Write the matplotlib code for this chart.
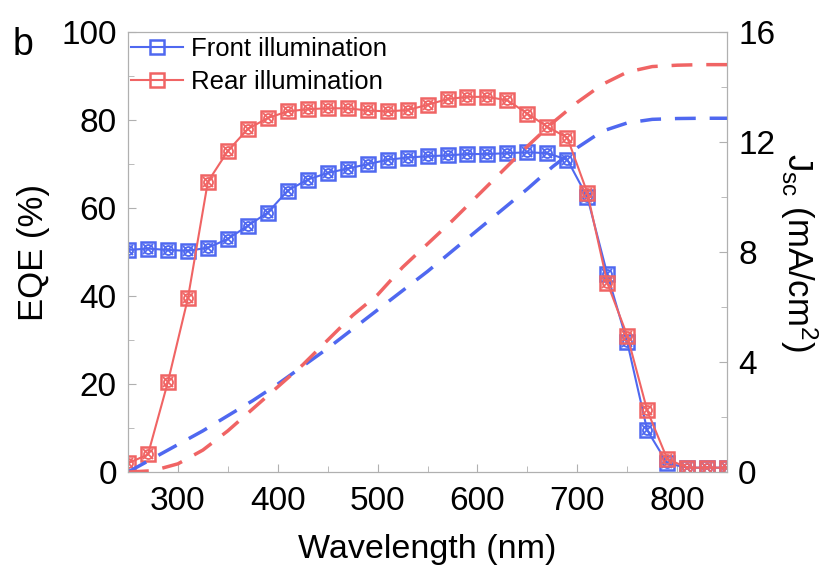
import numpy as np
import matplotlib.pyplot as plt
from matplotlib.ticker import MultipleLocator

plt.rcParams['font.family'] = ['Liberation Sans', 'DejaVu Sans']
plt.rcParams['mathtext.fontset'] = 'custom'
plt.rcParams['mathtext.rm'] = 'Liberation Sans'
plt.rcParams['mathtext.it'] = 'Liberation Sans:italic'

# EQE data, every 20 nm
wl = [250, 270, 290, 310, 330, 350, 370, 390, 410, 430, 450, 470, 490, 510,
      530, 550, 570, 590, 610, 630, 650, 670, 690, 710, 730, 750, 770, 790,
      810, 830, 850]
eqe_front = [50.5, 50.8, 50.5, 50.3, 51.0, 53.0, 56.0, 59.0, 64.0, 66.5,
             68.0, 69.0, 70.0, 71.0, 71.5, 71.8, 72.0, 72.3, 72.3, 72.5,
             72.7, 72.5, 71.0, 62.5, 45.0, 29.5, 9.5, 2.0, 1.0, 1.0, 1.0]
eqe_rear = [2.0, 4.0, 20.5, 39.5, 66.0, 73.0, 78.0, 80.5, 82.0, 82.5, 82.7,
            82.7, 82.2, 82.0, 82.3, 83.5, 84.8, 85.3, 85.3, 84.5, 81.5, 78.5,
            76.0, 63.5, 43.0, 31.0, 14.0, 3.0, 1.0, 1.0, 1.0]

# integrated Jsc curves, every 25 nm
wl_j = [250, 275, 300, 325, 350, 375, 400, 425, 450, 475, 500, 525, 550,
        575, 600, 625, 650, 675, 700, 725, 750, 775, 800, 825, 850]
jsc_front = [0, 0.5, 1.0, 1.5, 2.05, 2.6, 3.2, 3.85, 4.5, 5.2, 5.9, 6.6, 7.3,
             8.05, 8.8, 9.55, 10.3, 11.1, 11.8, 12.4, 12.7, 12.83, 12.86,
             12.87, 12.87]
jsc_rear = [0, 0.05, 0.3, 0.8, 1.5, 2.3, 3.1, 3.9, 4.8, 5.7, 6.45, 7.45, 8.3,
            9.15, 10.05, 10.95, 11.85, 12.7, 13.45, 14.1, 14.55, 14.75, 14.8,
            14.82, 14.82]

blue = '#4f68f0'
red = '#f06464'
grey = '#b0b0b0'

fig = plt.figure(figsize=(8.31, 5.75), dpi=100)
ax = fig.add_axes([0.154, 0.179, 0.721, 0.765])
ax2 = ax.twinx()

for y, c, lab in [(eqe_front, blue, 'Front illumination'),
                  (eqe_rear, red, 'Rear illumination')]:
    ax.plot(wl, y, color=c, lw=1.5, marker='s', ms=10, mfc='none', mew=1.8,
            label=lab)
    ax.plot(wl, y, color=c, lw=0, marker='o', ms=6.5, mfc='none', mew=1.3)
    ax.plot(wl, y, color=c, lw=0, marker='x', ms=7, mew=1.3)

ax2.plot(wl_j, jsc_front, color=blue, lw=2.5, dashes=(6, 4))
ax2.plot(wl_j, jsc_rear, color=red, lw=2.5, dashes=(6, 4))

ax.set_xlim(250, 850)
ax.set_ylim(0, 100)
ax2.set_ylim(0, 16)
ax.xaxis.set_major_locator(MultipleLocator(100))
ax.xaxis.set_minor_locator(MultipleLocator(50))
ax.yaxis.set_major_locator(MultipleLocator(20))
ax.yaxis.set_minor_locator(MultipleLocator(10))
ax2.yaxis.set_major_locator(MultipleLocator(4))
ax2.yaxis.set_minor_locator(MultipleLocator(2))

for a in (ax, ax2):
    for s in a.spines.values():
        s.set_color(grey)
    a.tick_params(which='both', direction='in', color=grey, labelsize=24,
                  pad=8)
    a.tick_params(which='major', length=6)
    a.tick_params(which='minor', length=4)
ax.tick_params(axis='x', pad=10)

ax.set_xlabel('Wavelength (nm)', fontsize=24.5, labelpad=12)
ax.set_ylabel('EQE (%)', fontsize=25, labelpad=8)
ax2.set_ylabel(r'J$_{\mathregular{sc}}$ (mA/cm$^{\mathregular{2}}$)',
               fontsize=25, rotation=270, labelpad=32)

leg = ax.legend(loc='upper left', frameon=False, fontsize=18.5,
                handlelength=2.0, borderaxespad=0.2, labelspacing=0.35,
                handletextpad=0.3, bbox_to_anchor=(-0.02, 1.025))

fig.text(0.015, 0.905, 'b', fontsize=27, va='baseline')

plt.savefig('out.png', dpi=100)
